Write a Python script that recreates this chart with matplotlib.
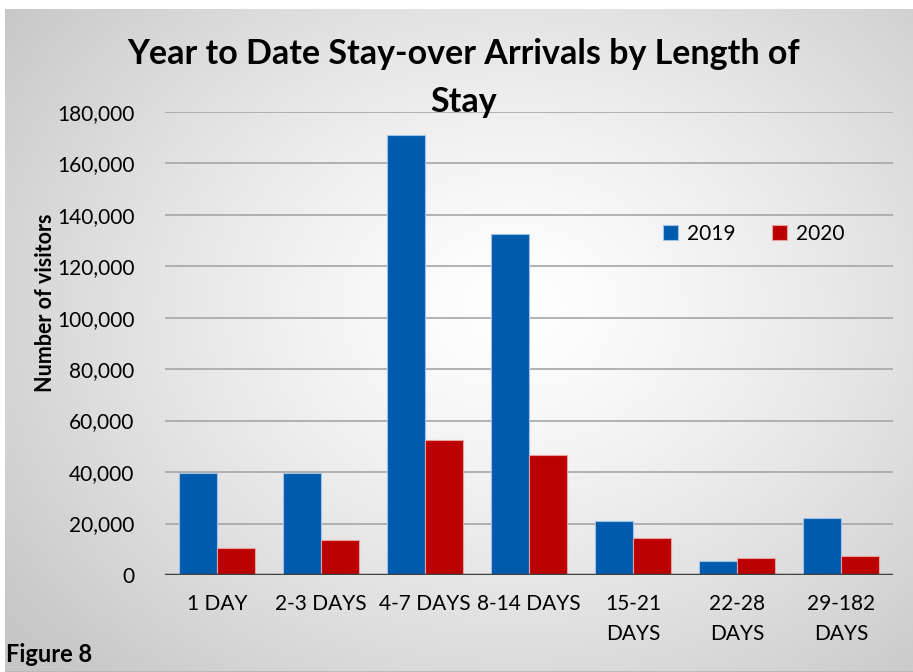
import matplotlib.pyplot as plt
import numpy as np

categories = ['1 DAY', '2-3 DAYS', '4-7 DAYS', '8-14 DAYS', '15-21\nDAYS', '22-28\nDAYS', '29-182\nDAYS']
visitors_2019 = [39500, 39500, 170800, 132400, 21000, 5500, 22000]
visitors_2020 = [10400, 13600, 52500, 46700, 14500, 6700, 7500]
yticks = [0, 20000, 40000, 60000, 80000, 100000, 120000, 140000, 160000, 180000]

plt.rcParams['font.family'] = ['Lato', 'DejaVu Sans']

W, H = 913, 672
fig = plt.figure(figsize=(W / 100, H / 100), dpi=100)
fig.patch.set_facecolor('white')

# radial grey background of the chart box
bg = fig.add_axes([5 / W, 0, (W - 5) / W, (H - 9) / H], zorder=-10)
yy, xx = np.mgrid[0:1:400j, 0:1:500j]
r = np.sqrt(((xx - 0.56) / 0.56) ** 2 + ((yy - 0.45) / 0.62) ** 2)
t = np.clip(r / 1.25, 0, 1) ** 1.3
shade = 1.0 - 0.22 * t
img = np.dstack([shade, shade, shade])
bg.imshow(img, aspect='auto', extent=[0, 1, 1, 0])
bg.axhline(1.0, color='#b8b8b8', lw=2)
bg.set_xlim(0, 1)
bg.set_ylim(1, 0)
bg.axis('off')

ax = fig.add_axes([165 / W, 1 - 575 / H, (893 - 165) / W, (575 - 111.7) / H])
ax.set_facecolor('none')

x = np.arange(len(categories))
w = 0.365
ax.bar(x - w / 2, visitors_2019, w, color='#005BAC', edgecolor='#9cc3e6', linewidth=0.8, label='2019', zorder=3)
ax.bar(x + w / 2, visitors_2020, w, color='#BA0000', edgecolor='#eaa0a0', linewidth=0.8, label='2020', zorder=3)

ax.set_xlim(-0.5, len(categories) - 0.5)
ax.set_ylim(0, 180000)
ax.set_yticks(yticks)
ax.set_yticklabels([f'{v:,}' for v in yticks])
ax.set_xticks(x)
ax.set_xticklabels(categories, linespacing=1.6)
ax.tick_params(axis='y', length=0, pad=22, labelsize=15)
ax.tick_params(axis='x', length=0, pad=14, labelsize=15)
ax.grid(axis='y', color='#a6a6a6', lw=1.2, zorder=1)
ax.axhline(0, color='#404040', lw=2.5, zorder=4)
for s in ax.spines.values():
    s.set_visible(False)

leg = ax.legend(loc='upper left', bbox_to_anchor=((644 - 165) / (893 - 165), (575 - 205) / (575 - 111.7)),
                ncol=2, frameon=False, fontsize=15, handlelength=0.75, handleheight=0.75,
                handletextpad=0.4, columnspacing=1.75)

fig.text(464 / W, 1 - 54 / H, 'Year to Date Stay-over Arrivals by Length of', ha='center', va='center',
         fontsize=24.5, fontweight='bold')
fig.text(464 / W, 1 - 102 / H, 'Stay', ha='center', va='center', fontsize=24.5, fontweight='bold')
fig.text(45 / W, 1 - 303 / H, 'Number of visitors', rotation=90, ha='center', va='center',
         fontsize=15.5, fontweight='bold')
fig.text(6 / W, 1 - 654 / H, 'Figure 8', ha='left', va='center', fontsize=17, fontweight='bold')

fig.savefig('out.png', dpi=100)
